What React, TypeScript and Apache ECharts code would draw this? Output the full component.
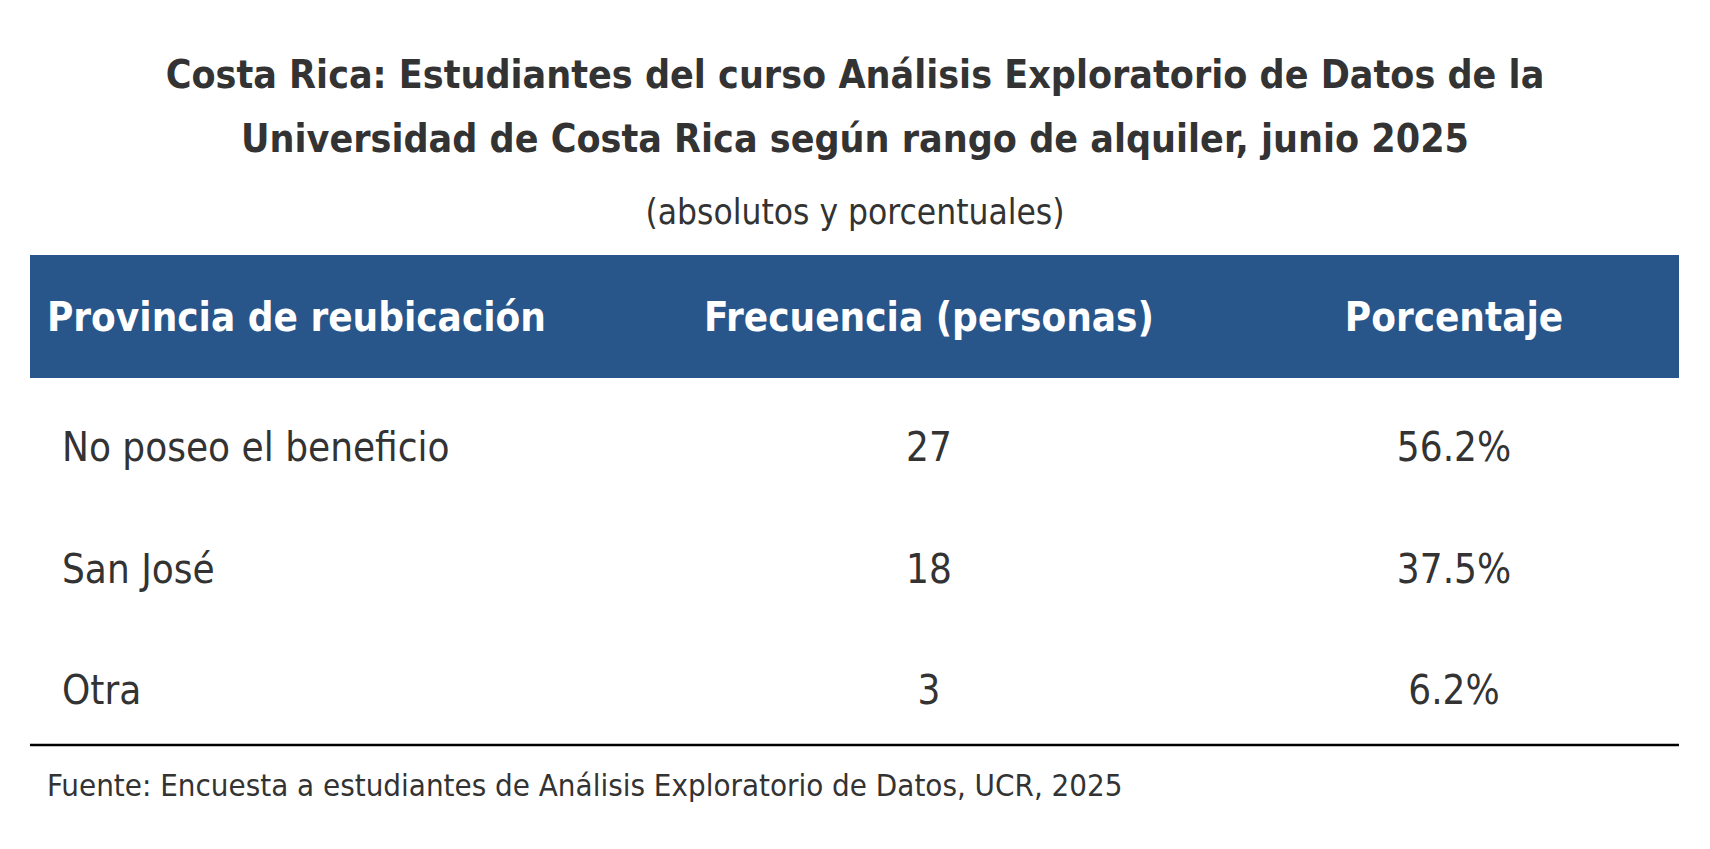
import React, { useEffect, useRef } from "react";
import * as echarts from "echarts";

const titleLines = [
  "Costa Rica: Estudiantes del curso Análisis Exploratorio de Datos de la",
  "Universidad de Costa Rica según rango de alquiler, junio 2025",
];
const subtitle = "(absolutos y porcentuales)";
const headers = ["Provincia de reubicación", "Frecuencia (personas)", "Porcentaje"];
const categories = ["No poseo el beneficio", "San José", "Otra"];
const counts = [27, 18, 3];
const percents = ["56.2%", "37.5%", "6.2%"];
const source = "Fuente: Encuesta a estudiantes de Análisis Exploratorio de Datos, UCR, 2025";

const FONT = "'Liberation Sans Narrow', 'DejaVu Sans Condensed', sans-serif";

export default function App() {
  const ref = useRef<HTMLDivElement>(null);
  useEffect(() => {
    const chart = echarts.init(ref.current!, null, { renderer: "svg" });
    const txt = (text: string, x: number, y: number, size: number, opts: any = {}) => ({
      type: "text",
      x,
      y,
      style: {
        text,
        fontFamily: FONT,
        fontSize: size,
        fill: opts.fill || "#333333",
        fontWeight: opts.bold ? "bold" : "normal",
        align: opts.align || "left",
        verticalAlign: "middle",
      },
    });
    const elements: any[] = [];
    titleLines.forEach((t, i) => elements.push(txt(t, 847, 66 + i * 64, 39, { bold: true, align: "center" })));
    elements.push(txt(subtitle, 847, 204, 35, { align: "center" }));
    elements.push({ type: "rect", shape: { x: 22, y: 247, width: 1649, height: 123 }, style: { fill: "#28568A" } });
    const colX = [39, 921, 1446];
    headers.forEach((h, i) =>
      elements.push(txt(h, colX[i], 309, 40, { bold: true, fill: "#ffffff", align: i === 0 ? "left" : "center" }))
    );
    categories.forEach((c, i) => {
      const y = 439 + i * 121.5;
      elements.push(txt(c, 54, y, 40));
      elements.push(txt(String(counts[i]), 921, y, 40, { align: "center" }));
      elements.push(txt(percents[i], 1446, y, 40, { align: "center" }));
    });
    elements.push({ type: "line", shape: { x1: 22, y1: 737, x2: 1671, y2: 737 }, style: { stroke: "#000000", lineWidth: 2.5 } });
    elements.push(txt(source, 39, 777, 31));
    chart.setOption({ animation: false, backgroundColor: "#ffffff", graphic: elements });
    return () => chart.dispose();
  }, []);
  return <div ref={ref} style={{ width: 1694, height: 833 }} />;
}
